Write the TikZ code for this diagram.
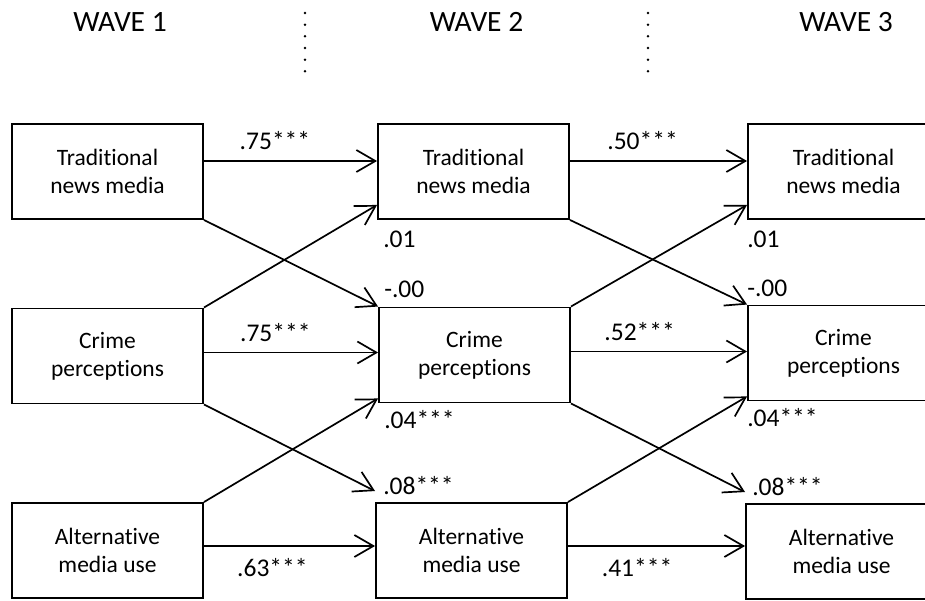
\documentclass[tikz,border=0pt]{standalone}
\usepackage{fontspec}
\setmainfont{Carlito}[Ligatures=NoCommon]
\usetikzlibrary{positioning, arrows.meta}

\tikzset{
  var/.style={draw, line width=1.9pt, minimum width=191pt, minimum height=95pt, align=center, font=\fontsize{23.5}{28}\selectfont},
  coef/.style={inner sep=0pt, font=\fontsize{25.5}{28}\selectfont},
  wave/.style={anchor=base, font=\fontsize{29.5}{34}\selectfont},
  effect/.style={line width=1.7pt, -{Straight Barb[length=19pt, width=22pt]}},
  sep/.style={line width=2.8pt, line cap=round, dash pattern=on 0pt off 11.667pt}
}

\begin{document}
\begin{tikzpicture}[x=1pt, y=-1pt]
  \useasboundingbox (0,0) rectangle (925,601);
  \draw
    (120,32) node[wave] (w1) {WAVE 1}
    (476.5,32) node[wave] (w2) {WAVE 2}
    (846,32) node[wave] (w3) {WAVE 3}
    (107.5,171.5) node[var] (trad1) {Traditional\\news media}
    (107.5,356) node[var] (crime1) {Crime\\perceptions}
    (107.5,550.5) node[var] (alt1) {Alternative\\media use}
    (473.5,171.5) node[var] (trad2) {Traditional\\news media}
    (474.5,355) node[var] (crime2) {Crime\\perceptions}
    (471.5,550.5) node[var] (alt2) {Alternative\\media use}
    (843.5,171.5) node[var] (trad3) {Traditional\\news media}
    (843.5,353) node[var] (crime3) {Crime\\perceptions}
    (841.5,551.5) node[var] (alt3) {Alternative\\media use};
  \draw[sep] (305,13) -- (305,83);
  \draw[sep] (648,13) -- (648,83);
  \begin{scope}[effect]
    \draw ([yshift=10.5pt]trad1.east) -- ([yshift=10.5pt]trad2.west) node[coef, pos=0.41, above=10pt] (s12) {.75***};
    \draw ([yshift=3.5pt]crime1.east) -- ([yshift=3.5pt]crime1.east -| crime2.west) node[coef, pos=0.41, above=10pt] (c12) {.75***};
    \draw ([yshift=4.5pt]alt1.east) -- ([yshift=4.5pt]alt1.east -| alt2.west) node[coef, pos=0.40, below=12pt] (a12) {.63***};
    \draw (trad1.south east) -- (crime2.north west);
    \draw (crime1.north east) -- ([yshift=15pt]trad2.south west);
    \draw (crime1.south east) -- ([yshift=11pt]alt2.north west);
    \draw (alt1.north east) -- ([yshift=5pt]crime2.south west);
    \draw ([yshift=10.5pt]trad2.east) -- ([yshift=10.5pt]trad3.west) node[coef, pos=0.41, above=10pt] (s23) {.50***};
    \draw ([yshift=3.5pt]crime2.east) -- ([yshift=3.5pt]crime2.east -| crime3.west) node[coef, pos=0.39, above=10pt] (c23) {.52***};
    \draw ([yshift=4.5pt]alt2.east) -- ([yshift=4.5pt]alt2.east -| alt3.west) node[coef, pos=0.39, below=12pt] (a23) {.41***};
    \draw (trad2.south east) -- (crime3.north west);
    \draw (crime2.north east) -- ([yshift=15pt]trad3.south west);
    \draw (crime2.south east) -- ([yshift=11pt]alt3.north west);
    \draw (alt2.north east) -- ([yshift=5pt]crime3.south west);
  \end{scope}
  \node[coef, below right=11pt and 6pt of trad2.south west] (ct2) {.01};
  \node[coef, above right=9pt and 6pt of crime2.north west] (tc2) {-.00};
  \node[coef, below right=7pt and 6pt of crime2.south west] (ac2) {.04***};
  \node[coef, above right=7pt and 8pt of alt2.north west] (ca2) {.08***};
  \node[coef, below right=11pt and 0pt of trad3.south west] (ct3) {.01};
  \node[coef, above right=8pt and 0pt of crime3.north west] (tc3) {-.00};
  \node[coef, below right=7pt and 0pt of crime3.south west] (ac3) {.04***};
  \node[coef, above right=7pt and 7pt of alt3.north west] (ca3) {.08***};
\end{tikzpicture}
\end{document}
